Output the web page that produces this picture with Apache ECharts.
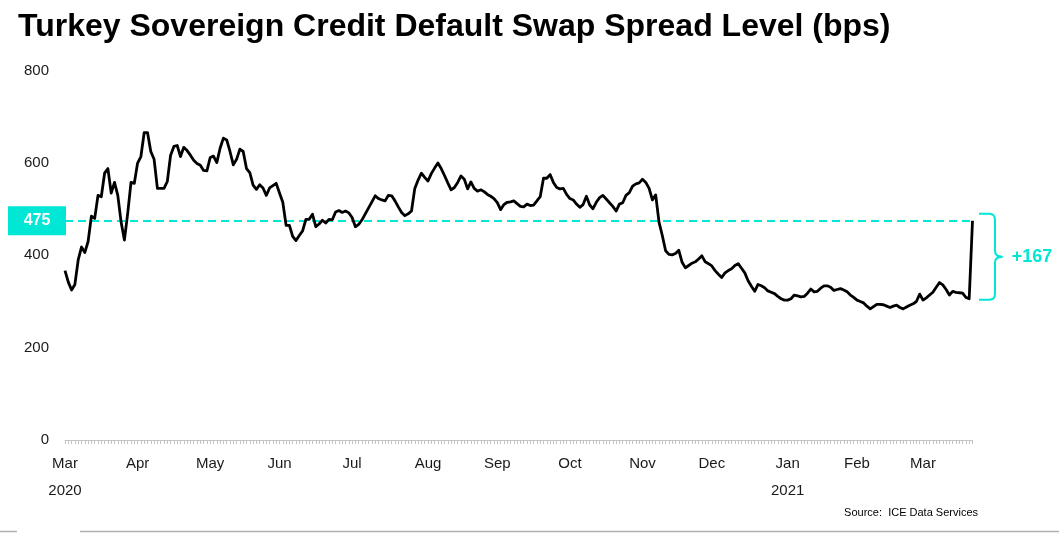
<!DOCTYPE html>
<html>
<head>
<meta charset="utf-8">
<script src="https://cdn.jsdelivr.net/npm/echarts@6/dist/echarts.min.js"></script>
<style>
html,body{margin:0;padding:0;background:#ffffff;}
#chart{width:1059px;height:533px;}
</style>
</head>
<body>
<div id="chart"></div>
<script>
// ---------- DATA ----------
const titleText = 'Turkey Sovereign Credit Default Swap Spread Level (bps)';
const sourceText = 'Source:  ICE Data Services';
const startDate = '2020-03-02';   // first trading day shown
const endDate = '2021-03-22';     // last trading day shown
const monthNames = ['Jan','Feb','Mar','Apr','May','Jun','Jul','Aug','Sep','Oct','Nov','Dec'];
const yTicks = [0, 200, 400, 600, 800];
// Daily CDS spread (bps), one value per weekday
const spread = [
  367,342,325,337,390,418,406,430,485,480,
  530,527,578,588,535,558,530,472,433,491,
  558,556,600,614,666,666,625,608,545,545,
  545,560,617,636,638,614,634,627,617,606,
  599,595,584,583,612,615,601,632,654,650,
  625,596,608,630,625,588,579,552,543,553,
  546,530,546,551,556,535,515,465,465,441,
  432,443,453,478,478,489,462,468,476,470,
  478,477,494,497,493,496,492,482,462,467,
  477,490,503,516,529,523,520,518,530,529,
  518,505,493,486,490,496,545,563,578,569,
  561,577,589,600,588,573,557,542,547,558,
  572,565,544,559,545,539,542,538,532,528,
  523,514,499,510,515,516,518,512,506,505,
  511,508,509,518,527,567,567,575,558,547,
  544,545,532,523,520,511,504,510,528,509,
  501,515,525,530,522,514,506,496,511,514,
  530,536,550,555,557,565,558,545,520,531,
  472,443,410,402,401,404,411,385,373,378,
  383,386,392,399,386,382,377,367,359,352,
  362,367,371,378,382,372,362,345,333,322,
  337,334,330,323,320,317,311,306,303,303,
  306,314,312,310,311,318,327,321,322,329,
  334,334,331,324,326,328,325,321,314,309,
  303,300,297,290,284,289,294,294,293,290,
  287,290,292,287,284,288,292,295,300,316,
  303,308,314,320,331,341,336,326,314,322,
  320,319,318,309,306,475
];
const latestLevel = 475;      // level after the spike (dashed reference line)
const preSpikeLevel = 308;    // level before the spike
const changeLabel = '+167';

// ---------- BUILD CATEGORIES (weekdays) ----------
const dates = [];
{
  let d = new Date(startDate + 'T00:00:00Z');
  const end = new Date(endDate + 'T00:00:00Z');
  while (d <= end) {
    const wd = d.getUTCDay();
    if (wd !== 0 && wd !== 6) dates.push(d.toISOString().slice(0, 10));
    d = new Date(d.getTime() + 86400000);
  }
}

const CYAN = '#00E8D5';
const TEXT = '#1a1a1a';
const FONT = "'Liberation Sans', Arial, Helvetica, sans-serif";

const chart = echarts.init(document.getElementById('chart'), null, {renderer: 'canvas'});

function isMonthStart(index) {
  if (index === 0) return true;
  return dates[index].slice(5, 7) !== dates[index - 1].slice(5, 7);
}

const option = {
  animation: false,
  backgroundColor: '#ffffff',
  grid: {left: 65, right: 86.5, top: 70.7, bottom: 93, containLabel: false},
  xAxis: {
    type: 'category',
    data: dates,
    boundaryGap: false,
    axisLine: {show: true, lineStyle: {color: '#c4c4c4', width: 1}},
    axisTick: {show: true, interval: 0, length: 4, lineStyle: {color: '#c4c4c4', width: 1}},
    axisLabel: {
      interval: function (index) { return isMonthStart(index); },
      formatter: function (value, index) {
        const m = +value.slice(5, 7);
        let s = monthNames[m - 1];
        if (index === 0 || m === 1) s += '\n' + value.slice(0, 4);
        return s;
      },
      color: TEXT,
      fontFamily: FONT,
      fontSize: 15,
      lineHeight: 27,
      margin: 10
    },
    splitLine: {show: false}
  },
  yAxis: {
    type: 'value',
    min: yTicks[0],
    max: yTicks[yTicks.length - 1],
    interval: yTicks[1] - yTicks[0],
    axisLine: {show: false},
    axisTick: {show: false},
    splitLine: {show: false},
    axisLabel: {color: TEXT, fontFamily: FONT, fontSize: 15, margin: 16}
  },
  series: [{
    type: 'line',
    data: spread,
    showSymbol: false,
    symbol: 'none',
    smooth: false,
    lineStyle: {color: '#000000', width: 2.8, join: 'round'},
    z: 3,
    markLine: {
      silent: true,
      symbol: ['none', 'none'],
      label: {show: false},
      lineStyle: {color: CYAN, type: [8, 5], width: 2},
      data: [{yAxis: latestLevel}],
      z: 2
    }
  }]
};

chart.setOption(option);

// ---------- ANNOTATIONS (positions derived from the axes) ----------
const yTop = chart.convertToPixel({yAxisIndex: 0}, latestLevel);
const yBot = chart.convertToPixel({yAxisIndex: 0}, preSpikeLevel);
const bTop = yTop - 7, bBot = yBot + 2, bMid = (bTop + bBot) / 2;
const ax0 = 979, vx = 995, tip = 1002;
const bracePoints = [
  [ax0, bTop], [vx - 5, bTop], [vx - 2, bTop + 1], [vx - 0.5, bTop + 3], [vx, bTop + 6],
  [vx, bMid - 6], [vx + 0.5, bMid - 3], [vx + 2.5, bMid - 1], [tip, bMid],
  [vx + 2.5, bMid + 1], [vx + 0.5, bMid + 3], [vx, bMid + 6],
  [vx, bBot - 6], [vx - 0.5, bBot - 3], [vx - 2, bBot - 1], [vx - 5, bBot], [ax0, bBot]
];

chart.setOption({
  graphic: [
    {type: 'text', x: 18, y: 27, style: {text: titleText, fill: '#000000', font: 'bold 32px ' + FONT, align: 'left', verticalAlign: 'middle'}},
    {type: 'rect', shape: {x: 8, y: yTop - 14.5, width: 58, height: 29}, style: {fill: CYAN}, z: 10},
    {type: 'text', x: 37, y: yTop, z: 11, style: {text: String(latestLevel), fill: '#ffffff', font: 'bold 16px ' + FONT, align: 'center', verticalAlign: 'middle'}},
    {type: 'polyline', shape: {points: bracePoints}, style: {stroke: CYAN, lineWidth: 2, fill: null, lineJoin: 'round'}, z: 10},
    {type: 'text', x: 1032, y: bMid, z: 11, style: {text: changeLabel, fill: CYAN, font: 'bold 18px ' + FONT, align: 'center', verticalAlign: 'middle'}},
    {type: 'text', x: 978, y: 513, style: {text: sourceText, fill: '#000000', font: '11px ' + FONT, align: 'right', verticalAlign: 'middle'}},
    {type: 'line', shape: {x1: 0, y1: 531.5, x2: 17, y2: 531.5}, style: {stroke: '#b0b0b0', lineWidth: 1.5}},
    {type: 'line', shape: {x1: 80, y1: 531.5, x2: 1059, y2: 531.5}, style: {stroke: '#b0b0b0', lineWidth: 1.5}}
  ]
});
</script>
</body>
</html>
